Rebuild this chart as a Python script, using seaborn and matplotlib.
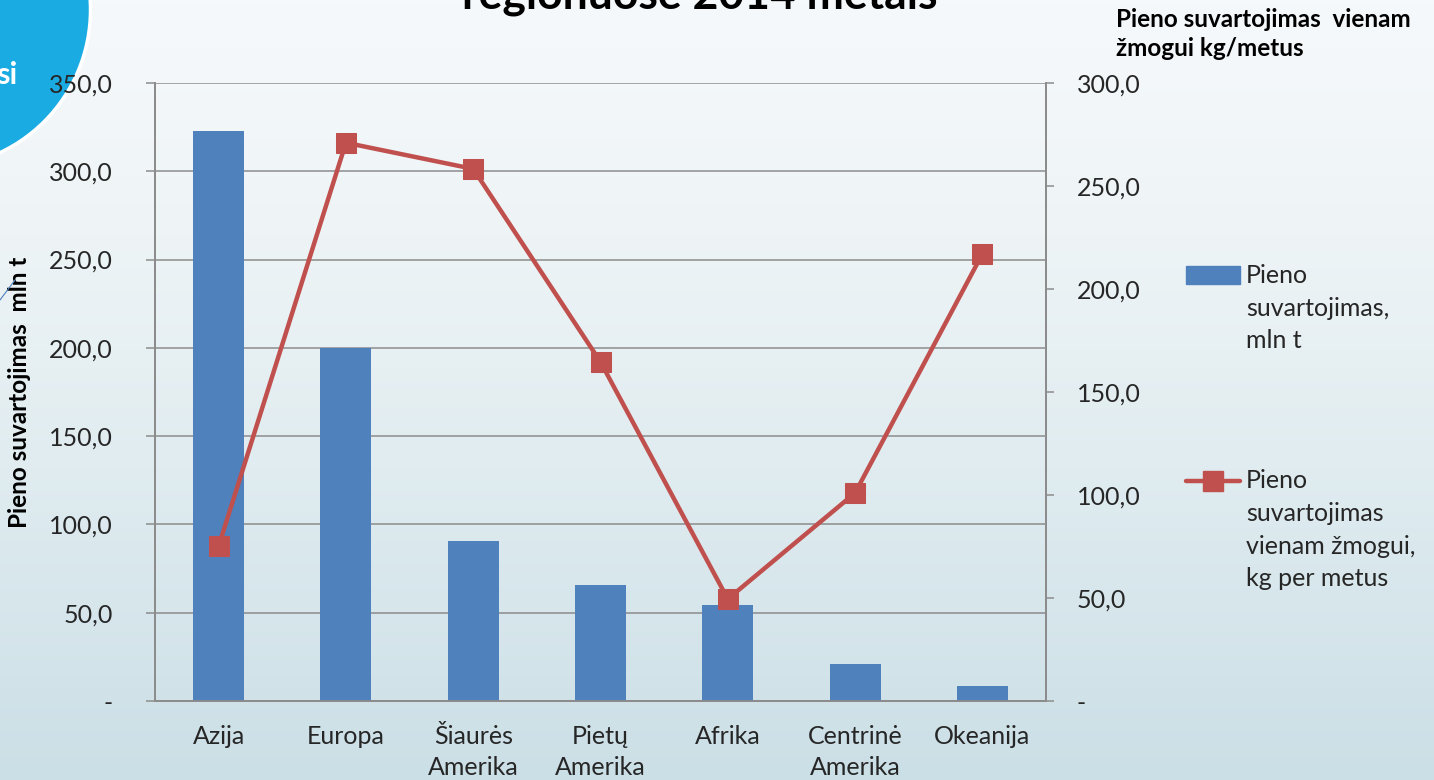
import numpy as np
import matplotlib
matplotlib.use("Agg")
import matplotlib.pyplot as plt
import seaborn as sns
import pandas as pd
from matplotlib.patches import Patch, Ellipse
from matplotlib.lines import Line2D
from matplotlib.colors import LinearSegmentedColormap
from matplotlib.legend_handler import HandlerPatch, HandlerLine2D

# data
regions = ["Azija", "Europa", "Šiaurės\nAmerika", "Pietų\nAmerika", "Afrika",
           "Centrinė\nAmerika", "Okeanija"]
total_mln_t = [323.0, 200.0, 90.6, 65.7, 54.4, 21.0, 8.5]
per_person_kg = [75.2, 271.0, 258.3, 164.6, 49.5, 101.0, 217.0]
left_ticks = [0, 50, 100, 150, 200, 250, 300, 350]
right_ticks = [0, 50, 100, 150, 200, 250, 300]

df = pd.DataFrame({"region": regions, "total": total_mln_t, "per_person": per_person_kg})

BAR = "#4f81bd"
RED = "#c0504d"
GRID = "#8c8c8c"
TXT = "#262626"

sns.set_style("white")
plt.rcParams["font.family"] = ["Lato", "DejaVu Sans"]
FS = 18

fig = plt.figure(figsize=(14.34, 7.8), dpi=100)
W, H = 1434, 780

# gradient background
bg = fig.add_axes([0, 0, 1, 1], zorder=-10)
cmap = LinearSegmentedColormap.from_list(
    "bg", [(0, "#f6f9fb"), (0.3, "#eef4f6"), (0.6, "#e0ecf0"), (1, "#cbdfe6")])
bg.imshow(np.linspace(0, 1, 256).reshape(-1, 1), aspect="auto", cmap=cmap,
          extent=[0, 1, 0, 1], origin="upper")
bg.set_xlim(0, 1)
bg.set_ylim(0, 1)
bg.axis("off")

# decorative circle top-left
circ = Ellipse((-67.5 / W, 1 - 9.8 / H), 2 * 158 / W, 2 * 158 / H,
               transform=fig.transFigure, facecolor="#1aabe2", edgecolor="white",
               linewidth=2.5, zorder=-5)
fig.patches.append(circ)
fig.text(-4 / W, 1 - 75 / H, "si", color="white", fontsize=22, fontweight="bold",
         ha="left", va="center")
fig.add_artist(Line2D([0, 15 / W], [1 - 300 / H, 1 - 280 / H], color="#4f81bd",
                      lw=0.8, transform=fig.transFigure))

ax = fig.add_axes([155 / W, 1 - 701 / H, (1046 - 155) / W, (701 - 83) / H])
ax.patch.set_alpha(0)

sns.barplot(data=df, x="region", y="total", color=BAR, width=0.4, saturation=1,
            linewidth=0, ax=ax, zorder=3)
ax.set_ylim(0, 350)
ax.set_yticks(left_ticks)
ax.set_yticklabels(["-"] + [f"{v:.1f}".replace(".", ",") for v in left_ticks[1:]])
ax.set_xlim(-0.5, len(regions) - 0.5)
ax.grid(axis="y", color=GRID, linewidth=1.1, zorder=0)
ax.set_axisbelow(True)
ax.tick_params(axis="y", length=6.5, color=GRID, width=1.1, labelsize=FS,
               labelcolor=TXT, pad=24)
ax.tick_params(axis="x", length=0, labelsize=FS, labelcolor=TXT, pad=17)
for lbl in ax.get_xticklabels():
    lbl.set_linespacing(1.45)
ax.set_xlabel("")
ax.set_ylabel("Pieno suvartojimas  mln t", fontsize=17.5, fontweight="bold",
              color="black")
ax.yaxis.set_label_coords(-124 / (1046 - 155), 0.5)
ax.spines["top"].set_visible(False)
for s in ["left", "bottom", "right"]:
    ax.spines[s].set_color(GRID)
    ax.spines[s].set_linewidth(1.3)

ax2 = ax.twinx()
ax2.patch.set_alpha(0)
sns.lineplot(data=df, x="region", y="per_person", color=RED, linewidth=3.2,
             marker="s", markersize=15, markeredgecolor=RED, ax=ax2, zorder=4,
             sort=False)
ax2.set_ylim(0, 300)
ax2.set_yticks(right_ticks)
ax2.set_yticklabels(["-"] + [f"{v:.1f}".replace(".", ",") for v in right_ticks[1:]])
ax2.tick_params(axis="y", length=6, color=GRID, width=1.1, labelsize=FS,
                labelcolor=TXT, pad=16)
ax2.set_ylabel("")
ax2.spines["top"].set_visible(False)
for s in ["left", "bottom", "right"]:
    ax2.spines[s].set_color(GRID)
    ax2.spines[s].set_linewidth(1.3)
ax2.grid(False)

fig.text(1116 / W, 1 - 8 / H, "Pieno suvartojimas  vienam\nžmogui kg/metus",
         fontsize=17.5, fontweight="bold", color="black", ha="left", va="top",
         linespacing=1.3)

# partially visible title
fig.text(700 / W, 1 - 9 / H, "regionuose 2014 metais", fontsize=32,
         fontweight="bold", color="black", ha="center", va="baseline")


# legend handles drawn level with the first text line
class TopPatch(HandlerPatch):
    def __init__(self, shift, **kw):
        super().__init__(**kw)
        self.shift = shift

    def create_artists(self, legend, orig_handle, xdescent, ydescent, width,
                       height, fontsize, trans):
        arts = super().create_artists(legend, orig_handle, xdescent, ydescent,
                                      width, height, fontsize, trans)
        for a in arts:
            a.set_y(a.get_y() + self.shift * fontsize)
        return arts


class TopLine(HandlerLine2D):
    def __init__(self, shift, **kw):
        super().__init__(**kw)
        self.shift = shift

    def create_artists(self, legend, orig_handle, xdescent, ydescent, width,
                       height, fontsize, trans):
        arts = super().create_artists(legend, orig_handle, xdescent, ydescent,
                                      width, height, fontsize, trans)
        for a in arts:
            a.set_ydata(np.asarray(a.get_ydata()) + self.shift * fontsize)
        return arts


h_bar = Patch(facecolor=BAR, edgecolor=BAR)
h_line = Line2D([0], [0], color=RED, linewidth=3.2, marker="s", markersize=15,
                markeredgecolor=RED)
leg = fig.legend([h_bar, h_line],
                 ["Pieno\nsuvartojimas,\nmln t",
                  "Pieno\nsuvartojimas\nvienam žmogui,\nkg per metus"],
                 handler_map={h_bar: TopPatch(1.35), h_line: TopLine(2.0)},
                 loc="upper left", bbox_to_anchor=(1186 / W, 1 - 264 / H),
                 frameon=False, fontsize=FS, labelcolor=TXT, handlelength=2.15,
                 handletextpad=0.25, labelspacing=4.7, borderaxespad=0, borderpad=0)
for t in leg.get_texts():
    t.set_linespacing(1.5)

fig.savefig("out.png", dpi=100)
